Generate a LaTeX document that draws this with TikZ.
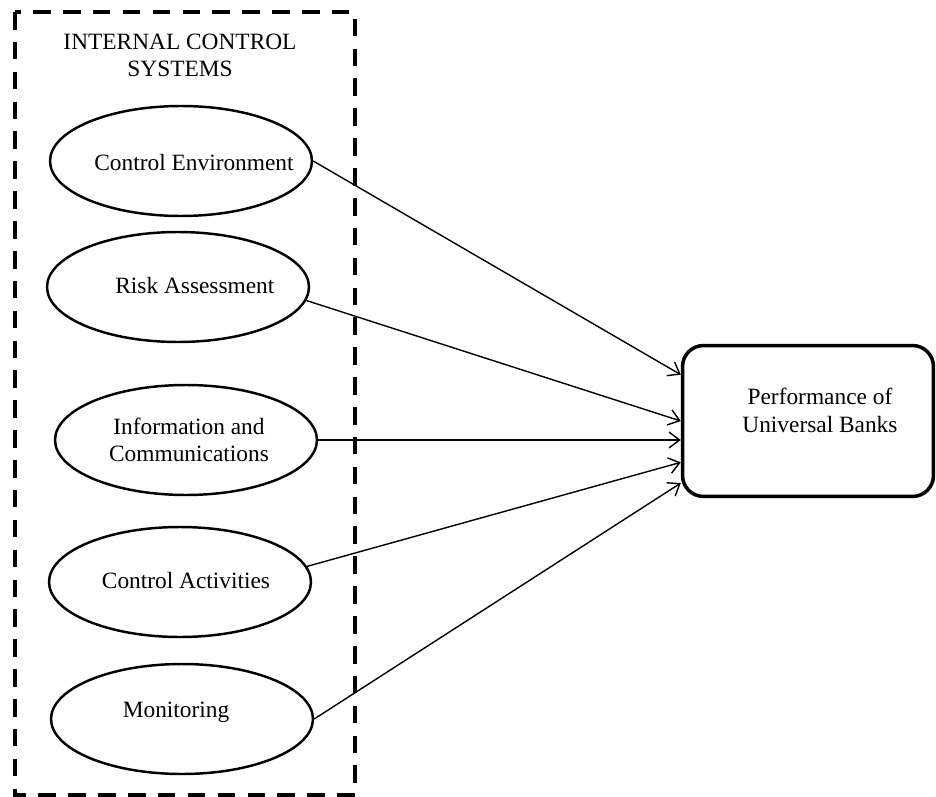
\documentclass[tikz,border=0pt]{standalone}
\usepackage{fontspec}
\setmainfont{Liberation Serif}
\usetikzlibrary{shapes.geometric,arrows.meta}
\begin{document}
\begin{tikzpicture}[x=0.02cm, y=-0.02cm, font=\fontsize{13.3}{15.5}\selectfont,
        factor/.style={draw, ellipse, line width=1.4pt, minimum width=5.24cm, minimum height=2.2cm, inner sep=0pt},
        outcome/.style={draw, rectangle, rounded corners=0.42cm, line width=2pt, minimum width=5.02cm, minimum height=3.02cm},
        link/.style={-{Straight Barb[length=6pt, width=9pt]}, line width=0.8pt}]
        \useasboundingbox (0,0) rectangle (936,797);
        \draw[line width=2.3pt, dash pattern=on 10pt off 7pt] (15,12) rectangle (355,795);
        \node[align=center] at (180,55) (ics){INTERNAL CONTROL\\SYSTEMS};
        \node[factor, label={[xshift=7.4pt, yshift=-1pt]center:Control Environment}] at (181,161) (env){};
        \node[factor, label={[xshift=9.6pt, yshift=1pt]center:Risk Assessment}] at (178,287) (risk){};
        \node[factor, label={[align=center, xshift=1.7pt]center:{Information and\\Communications}}] at (186,440) (info){};
        \node[factor, label={[xshift=3.4pt, yshift=1pt]center:Control Activities}] at (180,582) (act){};
        \node[factor, label={[xshift=-3.4pt, yshift=4pt]center:Monitoring}] at (182,719) (mon){};
        \node[outcome, label={[align=center, xshift=6.8pt, yshift=6pt]center:{Performance of\\Universal Banks}}] at (808,421) (perf){};
        \draw[link] (env.east) -- (perf.160);
        \draw[link] (risk.-6) -- (perf.180);
        \draw[link] (info.east) -- (info.east -| perf.west);
        \draw[link] (act.7) -- (perf.198);
        \draw[link] (mon.east) -- (perf.206);
    \end{tikzpicture}
\end{document}
